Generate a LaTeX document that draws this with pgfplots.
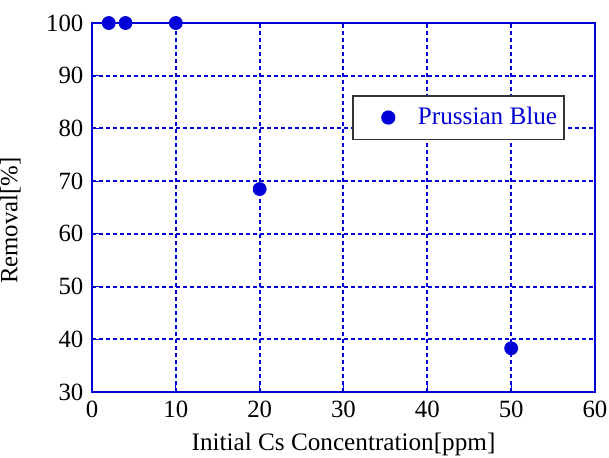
\documentclass[border=0pt]{standalone}
\usepackage{fontspec}
\setmainfont{Liberation Serif}
\usepackage{pgfplots}
\pgfplotsset{compat=1.18}
\definecolor{pblue}{RGB}{0,0,215}
\begin{document}
\fontsize{12.4}{14}\selectfont
\begin{tikzpicture}
\begin{axis}[
 scale only axis, width=251.5pt, height=184.5pt,
 xmin=0, xmax=60, ymin=30, ymax=100,
 xtick={0,10,...,60}, ytick={30,40,...,100},
 xmajorgrids, ymajorgrids,
 grid style={color=pblue, line width=1pt, dash pattern=on 2pt off 1.5pt},
 axis line style={draw=pblue, line width=0.9pt},
 tick style={draw=pblue, line width=0.6pt},
 tick align=inside, major tick length=4pt, tick pos=left,
 /pgf/number format/assume math mode=true,
 tick label style={font=\rmfamily\fontsize{12.4}{14}\selectfont},
 xlabel={Initial Cs Concentration[ppm]},
 ylabel={Removal[\%]},
 xlabel style={at={(axis description cs:0.5,-0.1572)}, anchor=base, font=\fontsize{12.6}{14}\selectfont},
 ylabel style={at={(axis description cs:-0.162,0.4648)}, anchor=center, font=\fontsize{12.4}{14}\selectfont},
 clip=false,
 legend style={at={(rel axis cs:0.5175,0.804)}, anchor=north west, draw=black!80, line width=0.6pt,
   inner xsep=3.35pt, inner ysep=5.5pt, nodes={inner sep=0pt}, column sep=0.45pt,
   font=\fontsize{12.6}{14}\selectfont, text=pblue},
 legend image code/.code={\path[draw=none,fill=none] (0pt,-3pt) rectangle (28.7pt,3pt);
   \draw[#1,mark repeat=2,mark phase=2] plot coordinates {(0pt,0pt)(14.35pt,0pt)(28.7pt,0pt)};},
]
\addplot[only marks, mark=*, mark size=3.25pt, color=pblue, mark options={fill=pblue, draw=pblue}]
 coordinates {(2,100)(4,100)(10,100)(20,68.5)(50,38.3)};
\addlegendentry{Prussian Blue}
\end{axis}
\pgfresetboundingbox
\path[use as bounding box] (-46pt,-32.5pt) rectangle (258.5pt,196pt);
\end{tikzpicture}
\end{document}
